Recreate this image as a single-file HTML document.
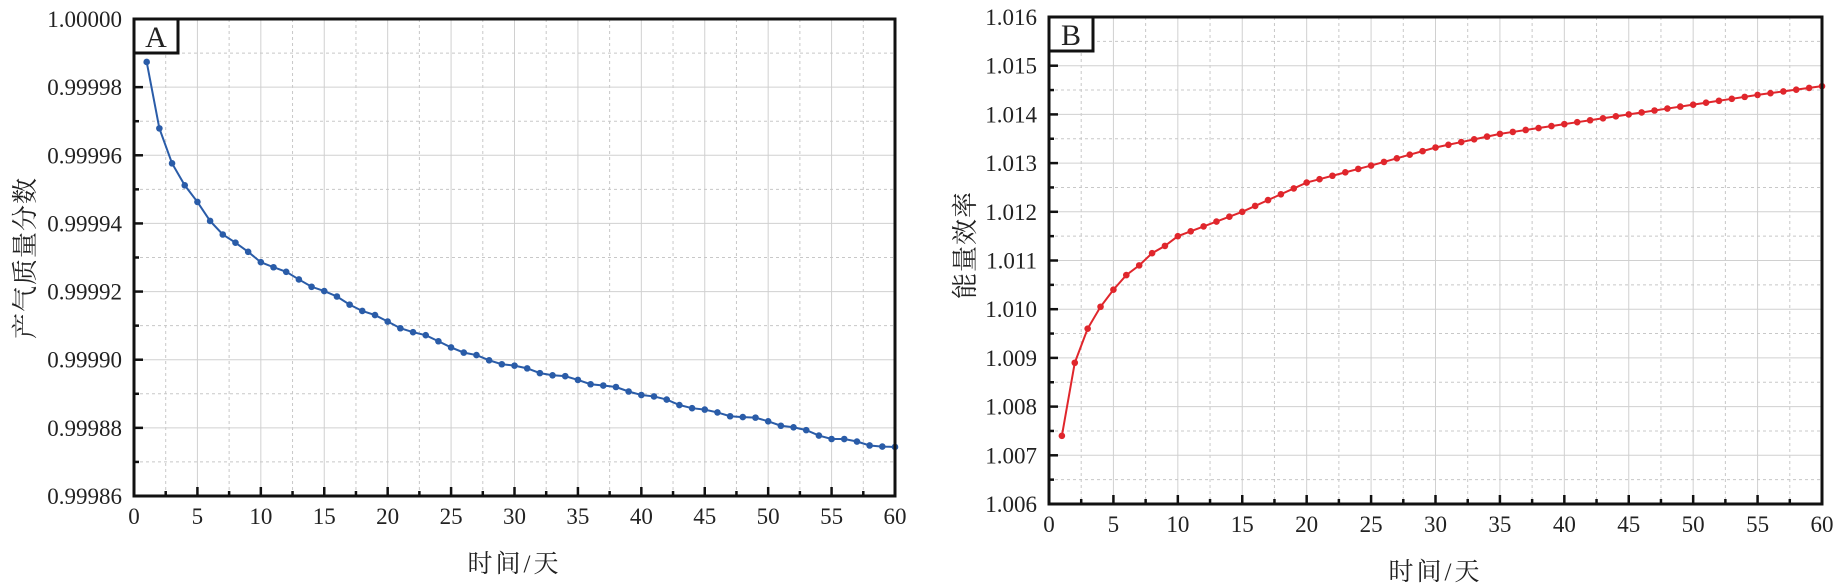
<!DOCTYPE html>
<html><head><meta charset="utf-8"><style>
html,body{margin:0;padding:0;background:#fff;}
svg{display:block;}
text{font-family:"Liberation Serif","Noto Serif CJK SC",serif;fill:#222;}
</style></head><body>
<svg id="s" width="1838" height="588" xmlns="http://www.w3.org/2000/svg"></svg>
<script>
const S=document.getElementById('s');let h='';
function interp(anchors,x){for(let i=0;i<anchors.length-1;i++){const[a,ya]=anchors[i],[b,yb]=anchors[i+1];if(x>=a&&x<=b)return ya+(yb-ya)*(x-a)/(b-a);}return anchors[anchors.length-1][1];}
function panel(o){
 const {x0,x1,y0,y1,ymin,ymax,ystep,yfmt,color,anchors,label,title,noise}=o;
 const X=v=>x0+(x1-x0)*v/60, Y=v=>y1-(y1-y0)*(v-ymin)/(ymax-ymin);
 const ny=Math.round((ymax-ymin)/ystep);
 for(let i=1;i<24;i++){const xv=i*2.5,px=X(xv);h+=`<line x1="${px}" y1="${y0}" x2="${px}" y2="${y1}" stroke="${i%2?'#c8c8c8':'#d0d0d0'}" stroke-width="1" ${i%2?'stroke-dasharray="3,3"':''}/>`;}
 for(let i=1;i<ny*2;i++){const py=y1-(y1-y0)*i/(ny*2);h+=`<line x1="${x0}" y1="${py}" x2="${x1}" y2="${py}" stroke="${i%2?'#c8c8c8':'#d0d0d0'}" stroke-width="1" ${i%2?'stroke-dasharray="3,3"':''}/>`;}
 for(let i=0;i<=24;i++){const px=X(i*2.5),L=i%2?5:9;h+=`<line x1="${px}" y1="${y1}" x2="${px}" y2="${y1-L}" stroke="#111" stroke-width="2.5"/>`;if(i%2==0)h+=`<text x="${px}" y="${y1+28}" font-size="23" text-anchor="middle">${i*2.5}</text>`;}
 for(let i=0;i<=ny*2;i++){const py=y1-(y1-y0)*i/(ny*2),L=i%2?5:9;h+=`<line x1="${x0}" y1="${py}" x2="${x0+L}" y2="${py}" stroke="#111" stroke-width="2.5"/>`;if(i%2==0)h+=`<text x="${x0-12}" y="${py+8}" font-size="23" text-anchor="end">${(ymin+ystep*i/2).toFixed(yfmt)}</text>`;}
 let pts=[];for(let d=1;d<=60;d++){let v=interp(anchors,d);if(noise)v+=noise*Math.sin(d*1.7);pts.push([X(d),Y(v)]);}
 h+=`<polyline points="${pts.map(p=>p.join(',')).join(' ')}" fill="none" stroke="${color}" stroke-width="2"/>`;
 pts.forEach(p=>h+=`<circle cx="${p[0]}" cy="${p[1]}" r="3.3" fill="${color}"/>`);
 h+=`<rect x="${x0}" y="${y0}" width="${x1-x0}" height="${y1-y0}" fill="none" stroke="#111" stroke-width="3"/>`;
 h+=`<rect x="${x0}" y="${y0}" width="44" height="34" fill="#fff" stroke="#111" stroke-width="3"/>`;
 h+=`<text x="${x0+22}" y="${y0+28}" font-size="30" text-anchor="middle">${label}</text>`;
 h+=`<text x="${(x0+x1)/2}" y="${y1+76}" font-size="25" letter-spacing="3" text-anchor="middle">时间/天</text>`;
 h+=`<text transform="translate(${o.tx},${o.ty}) rotate(-90)" font-size="26" letter-spacing="1" text-anchor="middle">${title}</text>`;
}
panel({x0:134,x1:895,y0:19,y1:496,ymin:0.99986,ymax:1.0,ystep:0.00002,yfmt:5,color:'#2a5ca8',label:'A',title:'产气质量分数',tx:34,ty:258,noise:0.0000004,
anchors:[[1,.999987],[2,.999968],[3,.999958],[4,.999951],[5,.999946],[6,.999941],[7,.999937],[8,.999934],[10,.999929],[15,.99992],[20,.999911],[25,.999904],[26,.999902],[30,.999898],[35,.999894],[40,.99989],[45,.999885],[50,.999882],[55,.999877],[60,.999874]]});
panel({x0:1049,x1:1822,y0:17,y1:504,ymin:1.006,ymax:1.016,ystep:0.001,yfmt:3,color:'#e0262c',label:'B',title:'能量效率',tx:974,ty:245,noise:0,
anchors:[[1,1.0074],[2,1.0089],[3,1.0096],[4,1.01005],[5,1.0104],[6,1.0107],[7,1.0109],[8,1.01115],[9,1.0113],[10,1.01150],[15,1.0120],[20,1.0126],[25,1.01295],[30,1.01332],[35,1.0136],[40,1.0138],[45,1.0140],[50,1.0142],[55,1.0144],[60,1.01458]]});
S.innerHTML=h;
</script>
</body></html>
